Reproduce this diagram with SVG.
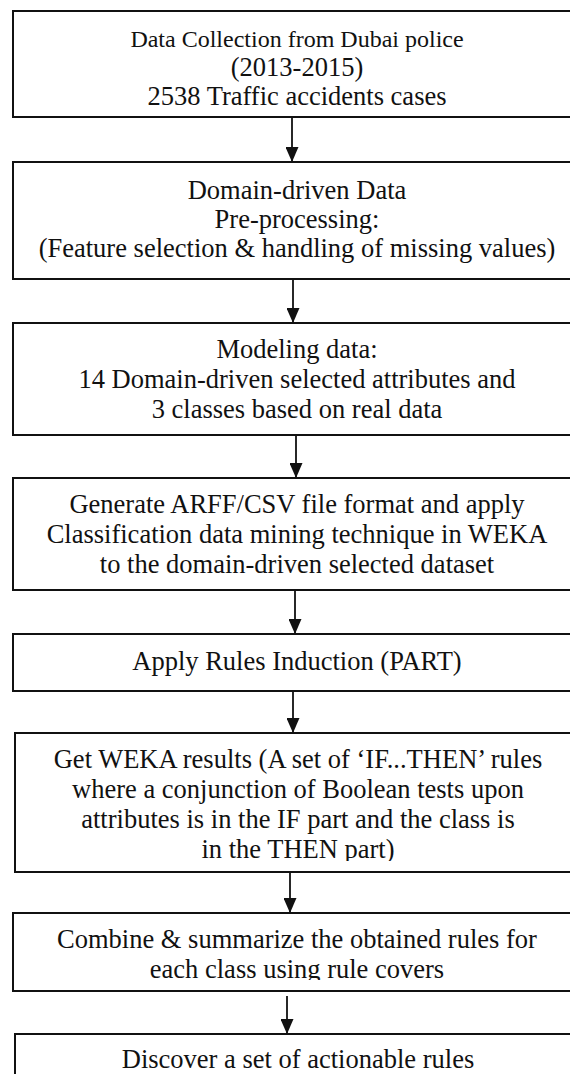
<svg xmlns="http://www.w3.org/2000/svg" width="570" height="1074" viewBox="0 0 570 1074">
<style>
.box{fill:#fff;stroke:#111;stroke-width:2}
.t{font-family:"Liberation Serif","Times New Roman",serif;font-size:26.5px;fill:#111;text-anchor:middle}
.s{font-size:24px}
.c{stroke:#111;stroke-width:1.8;fill:none}
</style>
<defs>
<marker id="ah" markerUnits="userSpaceOnUse" markerWidth="15" markerHeight="13" refX="15" refY="6.5" orient="auto">
<path d="M0,0 L15,6.5 L0,13 z" fill="#111"/>
</marker>
<clipPath id="clip6"><rect x="0" y="733" width="600" height="128"/></clipPath>
<clipPath id="clip7"><rect x="0" y="913" width="600" height="67"/></clipPath>
</defs>
<rect width="570" height="1074" fill="#fff"/>
<g id="connectors">
<line class="c" x1="292" y1="118" x2="292" y2="162" marker-end="url(#ah)"/>
<line class="c" x1="293" y1="280" x2="293" y2="323" marker-end="url(#ah)"/>
<line class="c" x1="296" y1="436" x2="296" y2="478" marker-end="url(#ah)"/>
<line class="c" x1="295" y1="591" x2="295" y2="634" marker-end="url(#ah)"/>
<line class="c" x1="293" y1="692" x2="293" y2="733" marker-end="url(#ah)"/>
<line class="c" x1="290" y1="873" x2="290" y2="913" marker-end="url(#ah)"/>
<line class="c" x1="287" y1="996" x2="287" y2="1034" marker-end="url(#ah)"/>
</g>
<g id="n1">
<rect class="box" x="13" y="11" width="570" height="106"/>
<text class="t s" x="297" y="47">Data Collection from Dubai police</text>
<text class="t" x="297" y="76">(2013-2015)</text>
<text class="t" x="297" y="105">2538 Traffic accidents cases</text>
</g>
<g id="n2">
<rect class="box" x="13" y="162" width="570" height="117"/>
<text class="t" x="297" y="199">Domain-driven Data</text>
<text class="t" x="297" y="228">Pre-processing:</text>
<text class="t" x="297" y="257">(Feature selection &amp; handling of missing values)</text>
</g>
<g id="n3">
<rect class="box" x="13" y="323" width="570" height="112"/>
<text class="t" x="297" y="358">Modeling data:</text>
<text class="t" x="297" y="388">14 Domain-driven selected attributes and</text>
<text class="t" x="297" y="418">3 classes based on real data</text>
</g>
<g id="n4">
<rect class="box" x="13" y="478" width="570" height="112"/>
<text class="t" x="297" y="513">Generate ARFF/CSV file format and apply</text>
<text class="t" x="297" y="543">Classification data mining technique in WEKA</text>
<text class="t" x="297" y="573">to the domain-driven selected dataset</text>
</g>
<g id="n5">
<rect class="box" x="13" y="634" width="570" height="57"/>
<text class="t" x="297" y="670">Apply Rules Induction (PART)</text>
</g>
<g id="n6">
<rect class="box" x="15" y="733" width="570" height="139"/>
<g clip-path="url(#clip6)">
<text class="t" x="298" y="768">Get WEKA results (A set of ‘IF...THEN’ rules</text>
<text class="t" x="298" y="798">where a conjunction of Boolean tests upon</text>
<text class="t" x="298" y="828">attributes is in the IF part and the class is</text>
<text class="t" x="298" y="858">in the THEN part)</text>
</g>
</g>
<g id="n7">
<rect class="box" x="13" y="913" width="570" height="78"/>
<g clip-path="url(#clip7)">
<text class="t" x="297" y="948">Combine &amp; summarize the obtained rules for</text>
<text class="t" x="297" y="978">each class using rule covers</text>
</g>
</g>
<g id="n8">
<rect class="box" x="15" y="1034" width="570" height="60"/>
<text class="t" x="298" y="1068">Discover a set of actionable rules</text>
</g>
</svg>
